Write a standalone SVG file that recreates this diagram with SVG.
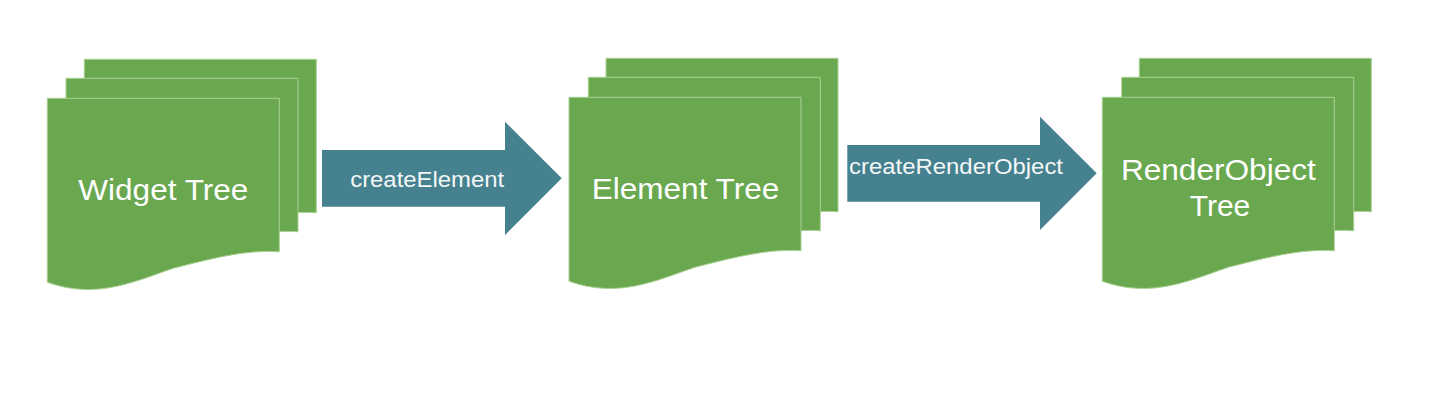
<svg xmlns="http://www.w3.org/2000/svg" xmlns:xlink="http://www.w3.org/1999/xlink" width="1440" height="400" viewBox="0 0 1440 400">
<style>
.page{fill:#6aa84f;stroke:#a9d193;stroke-width:1}
.arrow{fill:#45818e}
.lbl{font-family:"Liberation Sans",Arial,sans-serif;fill:#ffffff;text-anchor:middle}
.big{font-size:30px}
.small{font-size:22.5px;fill:#f4f7f7}
</style>
<defs>
<path id="doc" d="M0,0 H232 V153.5 C200,151 165,160 126,170 C90,182 50,202 0,184 Z"/>
</defs>
<rect width="1440" height="400" fill="#ffffff"/>
<g id="widget-tree">
<use xlink:href="#doc" href="#doc" class="page" x="84.3" y="59.3"/>
<use xlink:href="#doc" href="#doc" class="page" x="66" y="78.3"/>
<use xlink:href="#doc" href="#doc" class="page" x="47.3" y="98.3"/>
<text class="lbl big" x="163.3" y="199.5" textLength="170" lengthAdjust="spacingAndGlyphs">Widget Tree</text>
</g>
<g id="element-tree">
<use xlink:href="#doc" href="#doc" class="page" x="606" y="58.3"/>
<use xlink:href="#doc" href="#doc" class="page" x="588.3" y="77.3"/>
<use xlink:href="#doc" href="#doc" class="page" x="569" y="97.3"/>
<text class="lbl big" x="685.5" y="199.3" textLength="187.6" lengthAdjust="spacingAndGlyphs">Element Tree</text>
</g>
<g id="renderobject-tree">
<use xlink:href="#doc" href="#doc" class="page" x="1139.3" y="58.3"/>
<use xlink:href="#doc" href="#doc" class="page" x="1121.7" y="77.3"/>
<use xlink:href="#doc" href="#doc" class="page" x="1102.3" y="97.3"/>
<text class="lbl big" x="1218.4" y="180" textLength="195" lengthAdjust="spacingAndGlyphs">RenderObject</text>
<text class="lbl big" x="1220" y="216">Tree</text>
</g>
<g id="connectors">
<g id="arrow-createElement">
<polygon class="arrow" points="322,150 505,150 505,121.7 561.7,178.3 505,235 505,206.7 322,206.7"/>
<text class="lbl small" x="427.2" y="186.5" textLength="154" lengthAdjust="spacingAndGlyphs">createElement</text>
</g>
<g id="arrow-createRenderObject">
<polygon class="arrow" points="847.3,145 1040,145 1040,116.7 1096.7,173.3 1040,230 1040,201.7 847.3,201.7"/>
<text class="lbl small" x="956" y="174" textLength="214" lengthAdjust="spacingAndGlyphs">createRenderObject</text>
</g>
</g>
</svg>
